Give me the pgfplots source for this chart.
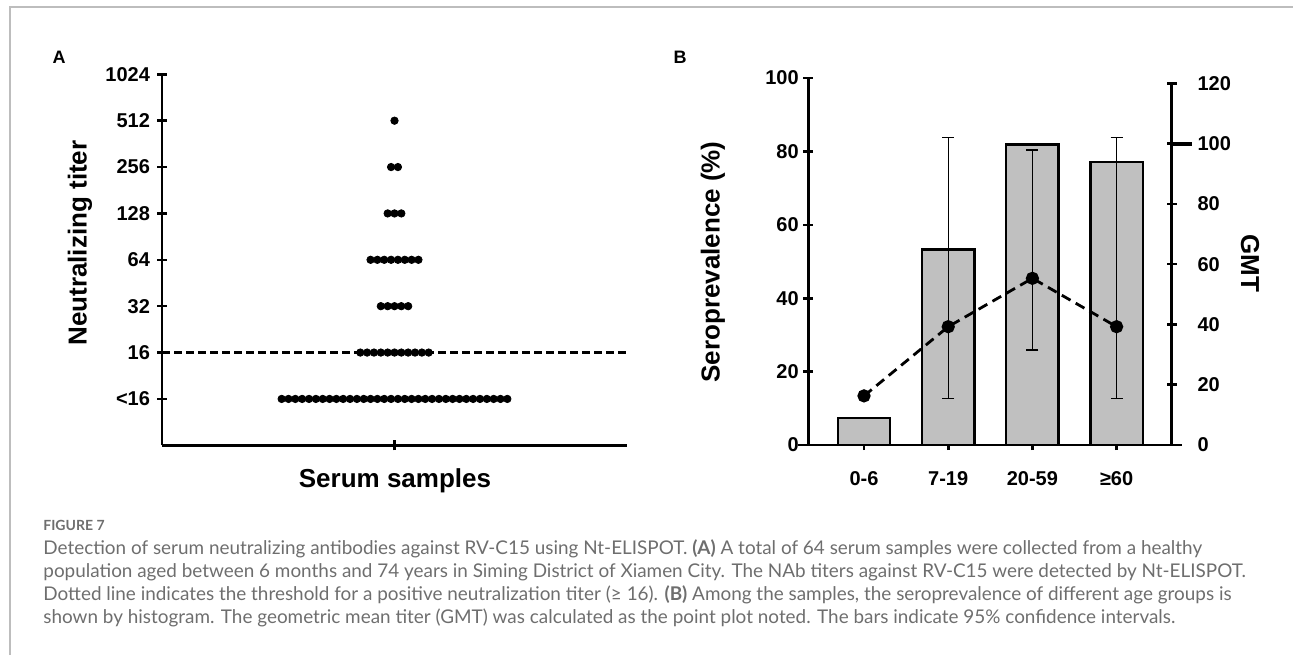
\documentclass[border=0pt]{standalone}
\usepackage{pgfplots}
\pgfplotsset{compat=1.18}
\usepackage{fontspec}
\setmainfont{Liberation Sans}
\newfontfamily\capfont{Lato}
\definecolor{barfill}{HTML}{C0C0C0}
\definecolor{capgray}{HTML}{6E6E6E}
\definecolor{framegray}{HTML}{BDBDBD}

\pgfplotsset{
  prism/.style={
    scale only axis,
    tick style={line width=1.3pt, black},
    major tick length=5pt,
    tick align=outside,
    tick label style={font=\bfseries\fontsize{10}{12}\selectfont},
    /pgf/number format/assume math mode=true,
    clip=false,
  }
}

\begin{document}
\begin{tikzpicture}[x=0.5pt,y=0.5pt]
\path[use as bounding box] (0,0) rectangle (1293,655);
\draw[framegray, line width=0.8pt] (10,0) -- (10,648) -- (1293,648);

% ---- panel A: dot plot of titers
\begin{axis}[prism,
  at={(81pt,104.85pt)}, anchor=south west,
  width=232.5pt, height=185.5pt,
  axis x line=bottom, axis y line=left,
  axis line style={-, line width=1.3pt},
  xmin=-34, xmax=34, ymin=-1, ymax=7,
  xtick={0}, xticklabels={},
  ytick={0,...,7},
  yticklabels={<16,16,32,64,128,256,512,1024},
]
\addplot[black, line width=1.3pt, dash pattern=on 4.2pt off 1.8pt] coordinates {(-34,1) (34,1)};
\addplot[only marks, mark=*, mark size=1.85pt, black] coordinates {
  % <16
  (-16.5,0) (-15.5,0) (-14.5,0) (-13.5,0) (-12.5,0) (-11.5,0) (-10.5,0) (-9.5,0)
  (-8.5,0) (-7.5,0) (-6.5,0) (-5.5,0) (-4.5,0) (-3.5,0) (-2.5,0) (-1.5,0) (-0.5,0)
  (0.5,0) (1.5,0) (2.5,0) (3.5,0) (4.5,0) (5.5,0) (6.5,0) (7.5,0) (8.5,0)
  (9.5,0) (10.5,0) (11.5,0) (12.5,0) (13.5,0) (14.5,0) (15.5,0) (16.5,0)
  % 16
  (-5,1) (-4,1) (-3,1) (-2,1) (-1,1) (0,1) (1,1) (2,1) (3,1) (4,1) (5,1)
  % 32
  (-2,2) (-1,2) (0,2) (1,2) (2,2)
  % 64
  (-3.5,3) (-2.5,3) (-1.5,3) (-0.5,3) (0.5,3) (1.5,3) (2.5,3) (3.5,3)
  % 128
  (-1,4) (0,4) (1,4)
  % 256
  (-0.5,5) (0.5,5)
  % 512
  (0,6)
};
\end{axis}

% ---- panel B: seroprevalence bars (left axis)
\begin{axis}[prism,
  at={(404.15pt,105pt)}, anchor=south west,
  width=181.6pt, height=183.5pt,
  axis x line=bottom, axis y line=left,
  axis line style={-, line width=1.3pt},
  xmin=-0.6615, xmax=3.652, ymin=0, ymax=100,
  xtick={0,1,2,3}, xticklabels={0-6,7-19,20-59,≥60},
  xticklabel style={yshift=-7pt},
  ytick={0,20,...,100},
  yticklabel style={xshift=1.2pt},
]
\addplot[ybar, bar width=0.6235, fill=barfill, draw=black, line width=1.2pt]
  coordinates {(0,7.4) (1,53.3) (2,81.9) (3,77.1)};
\draw[line width=1.3pt] ([xshift=-5pt]rel axis cs:0,0) -- ([xshift=5pt]rel axis cs:1,0);
\end{axis}

% ---- panel B: GMT (right axis)
\begin{axis}[prism,
  at={(404.15pt,105pt)}, anchor=south west,
  width=181.6pt, height=180.85pt,
  axis x line=none, axis y line=right,
  axis line style={-, line width=1.3pt},
  xmin=-0.6615, xmax=3.652, ymin=0, ymax=120,
  ytick={0,20,...,120},
  yticklabel style={xshift=7pt},
  extra y ticks={100}, extra y tick labels={},
  extra y tick style={tick align=outside, major tick length=10pt, tick style={line width=2pt}},
]
\addplot[only marks, mark=none, black,
  error bars/.cd, y dir=both, y explicit,
  error bar style={black, line width=0.7pt},
  error mark options={rotate=90, black, line width=0.7pt, mark size=3pt}]
  coordinates {(1,39.25) += (0,62.75) -= (0,23.85)
               (2,55.3) += (0,42.6) -= (0,23.8)
               (3,39.25) += (0,62.75) -= (0,23.85)};
\addplot[black, line width=1.4pt, dash pattern=on 5pt off 3pt,
  mark=*, mark size=2.6pt, mark options={solid}]
  coordinates {(0,16.3) (1,39.25) (2,55.3) (3,39.25)};
\end{axis}

% ---- labels
\node[font=\bfseries\fontsize{9}{10}\selectfont] at (59,598) {A};
\node[font=\bfseries\fontsize{9}{10}\selectfont] at (680,598) {B};
\node[rotate=90, font=\bfseries\fontsize{13}{15}\selectfont] at (80,412) {Neutralizing titer};
\node[font=\bfseries\fontsize{13}{15}\selectfont] at (395,174) {Serum samples};
\node[rotate=90, font=\bfseries\fontsize{13}{15}\selectfont] at (713,393) {Seroprevalence (\%)};
\node[rotate=-90, font=\bfseries\fontsize{13}{15}\selectfont] at (1250,392) {GMT};

% ---- caption
\begin{scope}[every node/.style={anchor=base west, inner sep=0pt, text=capgray}]
\node[font=\capfont\bfseries\fontsize{7}{8}\selectfont] at (43,125) {FIGURE 7};
\node[font=\capfont\fontsize{9.45}{11}\selectfont] at (43,101) {Detection of serum neutralizing antibodies against RV-C15 using Nt-ELISPOT. \textbf{(A)} A total of 64 serum samples were collected from a healthy};
\node[font=\capfont\fontsize{9.45}{11}\selectfont] at (43,78) {population aged between 6 months and 74 years in Siming District of Xiamen City. The NAb titers against RV-C15 were detected by Nt-ELISPOT.};
\node[font=\capfont\fontsize{9.45}{11}\selectfont] at (43,55) {Dotted line indicates the threshold for a positive neutralization titer (≥ 16). \textbf{(B)} Among the samples, the seroprevalence of different age groups is};
\node[font=\capfont\fontsize{9.45}{11}\selectfont] at (43,31.7) {shown by histogram. The geometric mean titer (GMT) was calculated as the point plot noted. The bars indicate 95\% confidence intervals.};
\end{scope}
\end{tikzpicture}
\end{document}
